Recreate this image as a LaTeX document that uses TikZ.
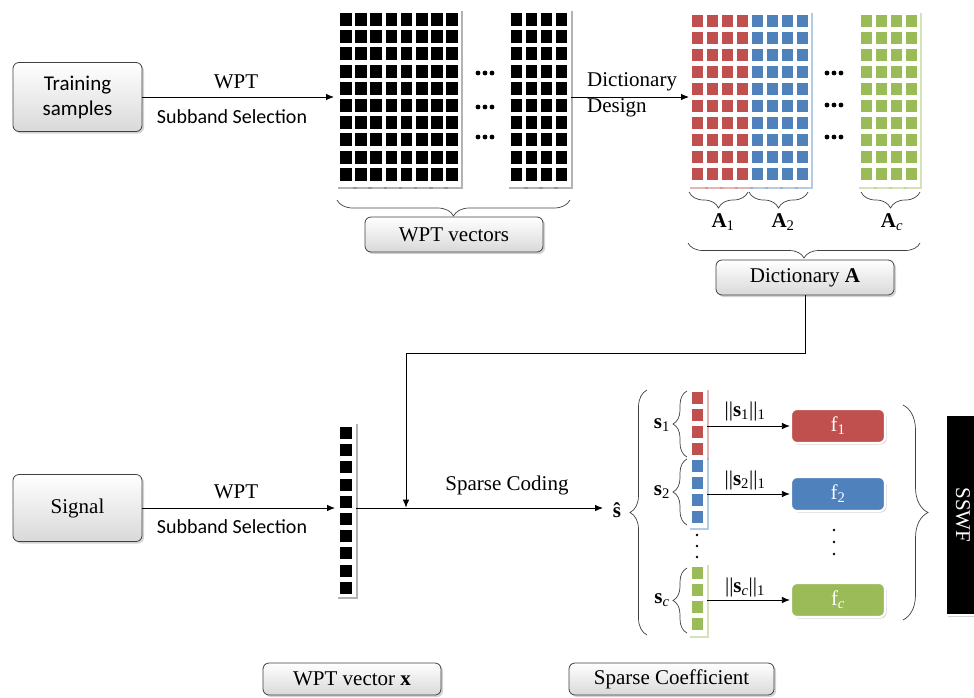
\documentclass[tikz,border=0pt]{standalone}
\usepackage{fontspec}
\setmainfont{Liberation Serif}
\newfontfamily\calfont{Carlito}
\usetikzlibrary{arrows.meta,shadows,decorations.pathreplacing,calc}

\definecolor{cred}{HTML}{C0504D}
\definecolor{cblue}{HTML}{4F81BD}
\definecolor{cgreen}{HTML}{9BBB59}
\definecolor{edge}{HTML}{404040}

\begin{document}
\begin{tikzpicture}[x=1pt,y=-1pt,
  lbl/.style={font=\rmfamily\fontsize{21}{26}\selectfont, inner sep=0pt},
  sans/.style={font=\calfont\fontsize{20}{24}\selectfont, inner sep=0pt},
  greybox/.style={draw=edge, line width=0.8pt, rounded corners=6pt,
    top color=white, bottom color=gray!30, inner sep=0pt,
    drop shadow={shadow xshift=2pt, shadow yshift=-2pt, opacity=0.35},
    font=\rmfamily\fontsize{21}{25}\selectfont},
  fbox/.style={draw=white, line width=2.2pt, rounded corners=6pt, fill=#1,
    text=white, minimum width=94pt, minimum height=34pt, inner sep=0pt,
    drop shadow={shadow xshift=1.5pt, shadow yshift=-1.5pt, opacity=0.35},
    font=\rmfamily\fontsize{21}{25}\selectfont},
  arr/.style={-{Latex[length=8pt,width=6.5pt]}, line width=0.8pt},
  brc/.style={decorate, decoration={brace, amplitude=#1}, draw=edge, line width=0.7pt},
  card/.style={fill=white, drop shadow={shadow xshift=1.5pt, shadow yshift=-1.5pt, opacity=0.6, fill=#1}},
]
\useasboundingbox (0,0) rectangle (974,697);

% ---------------- training branch ----------------
\node[greybox, minimum width=129pt, minimum height=69pt, align=center,
      font=\calfont\fontsize{21}{25}\selectfont] (train) at (77.5,97) {Training\\samples};
\coordinate (wptin) at (334,97);
\draw[arr] (train.east) -- (wptin);
\node[lbl] (wptA) at (236,82) {WPT};
\node[sans] (subA) at (232,117) {Subband Selection};

% stack of WPT vectors (left part)
\foreach \i in {0,...,7} {
  \pgfmathsetmacro\sx{340+15.2*\i}
  \fill[card=gray] (\sx-3.5,9) rectangle (\sx+15,187);
  \foreach \j in {0,...,9} \fill[black] (\sx,13+17.2*\j) rectangle ++(11.5,13);
}
% stack of WPT vectors (right part)
\foreach \i in {0,...,3} {
  \pgfmathsetmacro\sx{511+15*\i}
  \fill[card=gray] (\sx-3.5,9) rectangle (\sx+15,187);
  \foreach \j in {0,...,9} \fill[black] (\sx,13+17.2*\j) rectangle ++(11,13);
}
\foreach \yy in {73,107,137} \foreach \dx in {-7,0,7} \fill (485+\dx,\yy) circle (2.4pt);

\draw[brc=16pt] (570,200) -- (337,200);
\node[greybox, minimum width=178pt, minimum height=35pt] (wptvec) at (454,234.5) {WPT vectors};

% dictionary design
\coordinate (wptout) at (571,97);
\coordinate (dictin) at (689,97);
\draw[arr] (wptout) -- (dictin);
\node[lbl, align=left, anchor=west] (dlab) at (587,95) {Dictionary\\Design};

\foreach \i/\c in {0/cred,1/cred,2/cred,3/cred,4/cblue,5/cblue,6/cblue,7/cblue} {
  \pgfmathsetmacro\sx{692+15*\i}
  \fill[card=\c!70] (\sx-3.5,11) rectangle (\sx+14,187);
  \foreach \j in {0,...,9} \fill[\c] (\sx,15+17*\j) rectangle ++(10.5,12);
}
\foreach \i in {0,...,3} {
  \pgfmathsetmacro\sx{861+15*\i}
  \fill[card=cgreen!70] (\sx-3.5,11) rectangle (\sx+14,187);
  \foreach \j in {0,...,9} \fill[cgreen] (\sx,15+17*\j) rectangle ++(10.5,12);
}
\foreach \yy in {73,105,137} \foreach \dx in {-7,0,7} \fill (834+\dx,\yy) circle (2.4pt);

\draw[brc=16pt] (748,192) -- (689,192);
\draw[brc=16pt] (808,192) -- (749,192);
\draw[brc=16pt] (920,192) -- (861,192);
\node[lbl] (a1) at (723,222) {\textbf{A}\textsubscript{1}};
\node[lbl] (a2) at (783,222) {\textbf{A}\textsubscript{2}};
\node[lbl] (ac) at (892,222) {\textbf{A}\textsubscript{\itshape c}};

\draw[brc=15pt] (920,243) -- (688,243);
\node[greybox, minimum width=178pt, minimum height=35pt] (dictA) at (805,277.5) {Dictionary \textbf{A}};

% ---------------- signal branch ----------------
\node[greybox, minimum width=129pt, minimum height=67pt] (signal) at (77.5,508) {Signal};
\coordinate (xin) at (335,508);
\draw[arr] (signal.east) -- (xin);
\node[lbl] (wptB) at (236,492) {WPT};
\node[sans] (subB) at (232,527) {Subband Selection};

% WPT vector x
\fill[card=gray] (336,422) rectangle (356,597);
\foreach \j in {0,...,9} \fill[black] (340,427+17.2*\j) rectangle ++(12,12);
\coordinate (xout) at (356,508);
\coordinate (codeend) at (603,508);
\draw[arr] (xout) -- (codeend);
\node[lbl] (sc) at (507,485) {Sparse Coding};

% dictionary feeds the sparse coding
\coordinate (turn) at (406,353);
\coordinate (join) at (406,507.6);
\draw[line width=0.8pt] (dictA.south) |- (turn);
\draw[arr] (turn) -- (join);

\node[lbl] (shat) at (617,510) {\textbf{ŝ}};
\draw[brc=17pt] (647,635) -- (647,390);

% coefficient vector split into classes
\fill[card=cred!70] (688,388) rectangle (707,458);
\fill[card=cblue!70] (688,456) rectangle (707,528);
\fill[card=cgreen!70] (688,563) rectangle (707,636);
\foreach \j in {0,...,3} {
  \fill[cred] (692,392+17*\j) rectangle ++(11,12);
  \fill[cblue] (692,460+17*\j) rectangle ++(11,12);
  \fill[cgreen] (692,567+17*\j) rectangle ++(11,12);
}
\foreach \yy in {535,546,557} \fill (697,\yy) circle (1.3pt);

\draw[brc=14pt] (687,457) -- (687,391);
\draw[brc=14pt] (687,525) -- (687,459);
\draw[brc=14pt] (687,633) -- (687,568);
\node[lbl] (s1) at (662,425) {\textbf{s}\textsubscript{1}};
\node[lbl] (s2) at (662,492) {\textbf{s}\textsubscript{2}};
\node[lbl] (sc1) at (662,600) {\textbf{s}\textsubscript{\itshape c}};

% class features
\node[fbox=cred] (f1) at (838,426) {f\textsubscript{1}};
\node[fbox=cblue] (f2) at (838,494) {f\textsubscript{2}};
\node[fbox=cgreen] (fc) at (838,600) {f\textsubscript{\itshape c}};
\coordinate (o1) at (707,426);
\coordinate (o2) at (707,494);
\coordinate (o3) at (707,600);
\draw[arr] (o1) -- (f1.west);
\draw[arr] (o2) -- (f2.west);
\draw[arr] (o3) -- (fc.west);
\node[lbl] (n1) at (745,411) {||\textbf{s}\textsubscript{1}||\textsubscript{1}};
\node[lbl] (n2) at (745,480) {||\textbf{s}\textsubscript{2}||\textsubscript{1}};
\node[lbl] (n3) at (745,587) {||\textbf{s}\textsubscript{\itshape c}||\textsubscript{1}};
\foreach \yy in {530,542,554} \fill (834,\yy) circle (1.3pt);

\draw[brc=25pt] (903,405) -- (903,620);
\node[draw=white, line width=2.2pt, fill=black, text=white, rotate=-90,
      minimum width=200pt, minimum height=34pt, inner sep=0pt,
      drop shadow={shadow xshift=2pt, shadow yshift=-2pt, opacity=0.35},
      font=\rmfamily\fontsize{21}{25}\selectfont] (sswf) at (963,515) {SSWF};

% captions
\node[greybox, minimum width=178pt, minimum height=32pt] (wptx) at (352,679) {WPT vector \textbf{x}};
\node[greybox, minimum width=205pt, minimum height=32pt] (spco) at (671.5,679) {Sparse Coefficient};
\end{tikzpicture}
\end{document}
